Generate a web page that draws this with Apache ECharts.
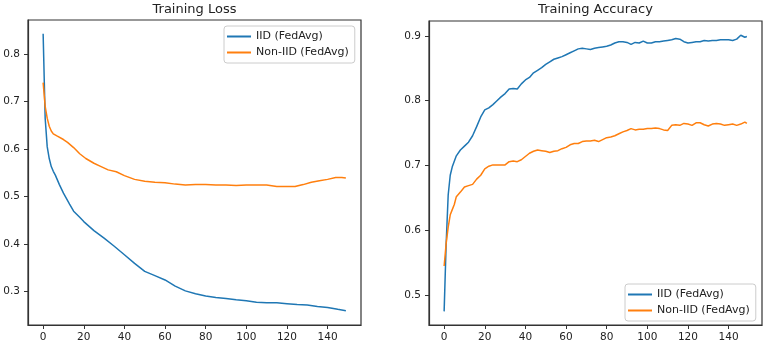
<!DOCTYPE html>
<html>
<head>
<meta charset="utf-8">
<title>FedAvg training</title>
<script src="https://cdn.jsdelivr.net/npm/echarts@6/dist/echarts.min.js"></script>
</head>
<body style="margin:0;padding:0;background:#fff">
<div id="main" style="width:767px;height:345px;"></div>
<script type="text/javascript">
// epochs (x) and values
var lossIidEpochs = [0, 1, 2, 3, 4, 5, 6, 8, 10, 13, 15, 18, 20, 25, 30, 35, 40, 45, 50, 55, 60, 65, 70, 75, 80, 85, 90, 95, 100, 105, 110, 115, 120, 125, 130, 135, 140, 145, 149];
var lossIid = [0.843, 0.665, 0.605, 0.580, 0.563, 0.553, 0.545, 0.525, 0.507, 0.484, 0.469, 0.456, 0.447, 0.428, 0.412, 0.395, 0.377, 0.359, 0.342, 0.333, 0.324, 0.311, 0.301, 0.295, 0.290, 0.287, 0.285, 0.282, 0.280, 0.277, 0.276, 0.276, 0.274, 0.272, 0.271, 0.268, 0.266, 0.262, 0.259];

var lossNonIidEpochs = [0, 1, 2, 3, 4, 5, 7, 10, 12, 15, 18, 21, 25, 28, 32, 36, 40, 45, 50, 55, 60, 65, 70, 75, 80, 85, 90, 95, 100, 105, 110, 115, 120, 124, 128, 132, 136, 140, 144, 147, 149];
var lossNonIid = [0.740, 0.690, 0.665, 0.648, 0.638, 0.632, 0.627, 0.620, 0.614, 0.603, 0.590, 0.580, 0.570, 0.564, 0.556, 0.552, 0.544, 0.536, 0.532, 0.530, 0.529, 0.526, 0.524, 0.525, 0.525, 0.524, 0.524, 0.523, 0.524, 0.524, 0.524, 0.521, 0.521, 0.521, 0.525, 0.530, 0.533, 0.536, 0.540, 0.540, 0.539];

var accEpochs = [0, 1, 2, 3, 4, 6, 8, 10, 12, 14, 16, 18, 20, 22, 24, 26, 28, 30, 32, 34, 36, 38, 40, 42, 44, 46, 48, 50, 52, 54, 56, 58, 60, 62, 64, 66, 68, 70, 72, 74, 76, 78, 80, 82, 84, 86, 88, 90, 92, 94, 96, 98, 100, 102, 104, 106, 108, 110, 112, 114, 116, 118, 120, 122, 124, 126, 128, 130, 132, 134, 136, 138, 140, 142, 144, 146, 148, 149];
var accIid = [0.475, 0.580, 0.655, 0.685, 0.698, 0.715, 0.724, 0.730, 0.736, 0.746, 0.760, 0.775, 0.786, 0.789, 0.794, 0.800, 0.806, 0.811, 0.818, 0.819, 0.818, 0.826, 0.832, 0.836, 0.843, 0.847, 0.851, 0.856, 0.860, 0.864, 0.866, 0.868, 0.871, 0.874, 0.877, 0.880, 0.881, 0.880, 0.879, 0.881, 0.882, 0.883, 0.884, 0.886, 0.889, 0.891, 0.891, 0.890, 0.887, 0.890, 0.889, 0.892, 0.889, 0.889, 0.891, 0.891, 0.892, 0.893, 0.894, 0.896, 0.895, 0.891, 0.889, 0.890, 0.891, 0.891, 0.893, 0.892, 0.893, 0.893, 0.894, 0.894, 0.894, 0.893, 0.895, 0.901, 0.898, 0.899];

var accNonIidEpochs = [0, 1, 2, 3, 4, 5, 6, 8, 10, 12, 14, 16, 18, 20, 22, 24, 26, 28, 30, 32, 34, 36, 38, 40, 42, 44, 46, 48, 50, 52, 54, 56, 58, 60, 62, 64, 66, 68, 70, 72, 74, 76, 78, 80, 82, 84, 86, 88, 90, 92, 94, 96, 98, 100, 102, 104, 106, 108, 110, 112, 114, 116, 118, 120, 122, 124, 126, 128, 130, 132, 134, 136, 138, 140, 142, 144, 146, 148, 149];
var accNonIid = [0.545, 0.580, 0.605, 0.624, 0.632, 0.640, 0.652, 0.659, 0.667, 0.669, 0.671, 0.679, 0.685, 0.695, 0.699, 0.701, 0.701, 0.701, 0.701, 0.706, 0.707, 0.706, 0.709, 0.714, 0.719, 0.722, 0.724, 0.723, 0.722, 0.720, 0.722, 0.723, 0.726, 0.728, 0.732, 0.734, 0.734, 0.737, 0.738, 0.738, 0.739, 0.737, 0.740, 0.743, 0.744, 0.746, 0.749, 0.752, 0.754, 0.757, 0.755, 0.756, 0.756, 0.757, 0.757, 0.758, 0.757, 0.755, 0.754, 0.762, 0.763, 0.762, 0.765, 0.764, 0.762, 0.766, 0.766, 0.763, 0.761, 0.764, 0.765, 0.764, 0.762, 0.763, 0.764, 0.762, 0.764, 0.767, 0.765];

var xTicks = [0, 20, 40, 60, 80, 100, 120, 140];
var lossTicks = [0.3, 0.4, 0.5, 0.6, 0.7, 0.8];
var accTicks = [0.5, 0.6, 0.7, 0.8, 0.9];

var names = ['IID (FedAvg)', 'Non-IID (FedAvg)'];
var colors = ['#1f77b4', '#ff7f0e'];

function zip(xs, ys) {
    return xs.map(function (x, i) { return [x, ys[i]]; });
}

var font = 'DejaVu Sans';
var ink = '#222';
var frame = '#333';

function xAxis(gi) {
    return {
        type: 'value', gridIndex: gi, min: -7.45, max: 156.45,
        axisLine: { show: true, onZero: false, lineStyle: { color: frame, width: 1.2 } },
        splitLine: { show: false },
        axisTick: { show: true, length: 4, customValues: xTicks, lineStyle: { color: frame, width: 1 } },
        axisLabel: { customValues: xTicks, margin: 7, color: ink, fontSize: 10.5, fontFamily: font }
    };
}
function yAxis(gi, min, max, ticks) {
    return {
        type: 'value', gridIndex: gi, min: min, max: max,
        axisLine: { show: true, onZero: false, lineStyle: { color: frame, width: 1.2 } },
        splitLine: { show: false },
        axisTick: { show: true, length: 4, customValues: ticks, lineStyle: { color: frame, width: 1 } },
        axisLabel: {
            customValues: ticks, margin: 8, color: ink, fontSize: 10.5, fontFamily: font,
            formatter: function (v) { return v.toFixed(1); }
        }
    };
}
function line(name, color, gi, data) {
    return {
        name: name, type: 'line', xAxisIndex: gi, yAxisIndex: gi,
        data: data, showSymbol: false, symbol: 'none', animation: false,
        lineStyle: { color: color, width: 1.5 }, itemStyle: { color: color }
    };
}
function legend(left, top) {
    return {
        data: names, orient: 'vertical', left: left, top: top,
        icon: 'rect', itemWidth: 24, itemHeight: 2, itemGap: 3, itemTextGap: 8,
        backgroundColor: '#fff', borderColor: '#ccc', borderWidth: 1, borderRadius: 3,
        padding: [4, 6, 4, 3],
        textStyle: { color: ink, fontSize: 11, fontFamily: font, lineHeight: 13 }
    };
}

var myChart = echarts.init(document.getElementById('main'), null, { renderer: 'canvas' });
var option = {
    backgroundColor: '#fff',
    animation: false,
    title: [
        { text: 'Training Loss', left: 194.5, top: 3, padding: 0, textAlign: 'center',
          textStyle: { color: ink, fontSize: 13, fontWeight: 'normal', fontFamily: font } },
        { text: 'Training Accuracy', left: 595.5, top: 3, padding: 0, textAlign: 'center',
          textStyle: { color: ink, fontSize: 13, fontWeight: 'normal', fontFamily: font } }
    ],
    legend: [legend(224, 26), legend(625, 284)],
    grid: [
        { left: 28, right: 406, top: 20, bottom: 20, show: true, borderColor: frame, borderWidth: 1.2, backgroundColor: 'transparent' },
        { left: 429, right: 5, top: 21, bottom: 20, show: true, borderColor: frame, borderWidth: 1.2, backgroundColor: 'transparent' }
    ],
    xAxis: [xAxis(0), xAxis(1)],
    yAxis: [yAxis(0, 0.229, 0.872, lossTicks), yAxis(1, 0.454, 0.923, accTicks)],
    series: [
        line(names[0], colors[0], 0, zip(lossIidEpochs, lossIid)),
        line(names[1], colors[1], 0, zip(lossNonIidEpochs, lossNonIid)),
        line(names[0], colors[0], 1, zip(accEpochs, accIid)),
        line(names[1], colors[1], 1, zip(accNonIidEpochs, accNonIid))
    ]
};
myChart.setOption(option);
</script>
</body>
</html>
